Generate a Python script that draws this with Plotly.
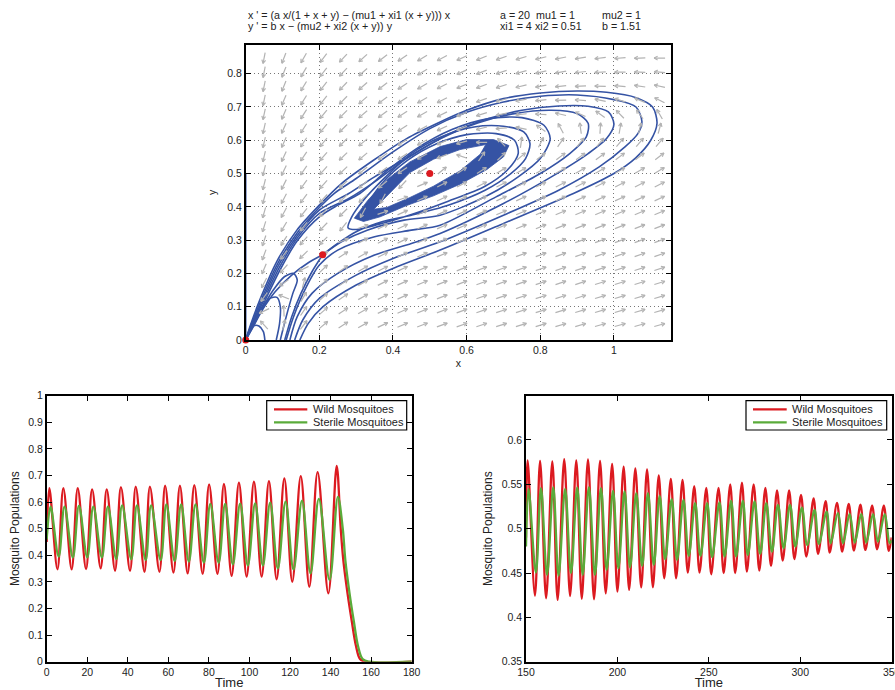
import numpy as np
import plotly.graph_objects as go

# ---------------- model parameters (printed on the chart) ----------------
a, mu1, mu2, xi1, xi2, b = 20, 1, 1, 4, 0.51, 1.51

# ---------------- phase portrait: equilibria ----------------
eq_x = [0.0, 0.209, 0.5]
eq_y = [0.0, 0.256, 0.5]

# limit-cycle band (outer edge and inner hole)
band_out_x = [0.295, 0.332, 0.385, 0.446, 0.528, 0.60, 0.673, 0.715, 0.70, 0.655, 0.582, 0.51, 0.437, 0.365, 0.32, 0.295]
band_out_y = [0.366, 0.42, 0.483, 0.535, 0.581, 0.602, 0.602, 0.584, 0.55, 0.512, 0.468, 0.433, 0.404, 0.37, 0.356, 0.366]
band_in_x = [0.348, 0.383, 0.446, 0.51, 0.582, 0.652, 0.637, 0.582, 0.51, 0.446, 0.383, 0.348]
band_in_y = [0.393, 0.432, 0.503, 0.543, 0.572, 0.587, 0.558, 0.508, 0.462, 0.428, 0.398, 0.393]

# trajectories (x, y)
traj = {
    "T1": ([0.147, 0.17, 0.21, 0.3, 0.4, 0.528, 0.7, 0.89, 1.0, 1.06, 1.1, 1.117, 1.105, 1.06, 0.98, 0.9, 0.8, 0.7, 0.6, 0.528, 0.437, 0.347, 0.26, 0.2, 0.139, 0.084, 0.04, 0.013, 0.0],
           [0.0, 0.05, 0.1, 0.165, 0.215, 0.27, 0.35, 0.44, 0.50, 0.548, 0.60, 0.651, 0.70, 0.728, 0.744, 0.748, 0.742, 0.725, 0.69, 0.655, 0.605, 0.54, 0.47, 0.405, 0.33, 0.235, 0.125, 0.045, 0.0]),
    "T2": ([0.133, 0.155, 0.2, 0.3, 0.4, 0.528, 0.7, 0.85, 0.96, 1.03, 1.065, 1.076, 1.06, 1.0, 0.9, 0.8, 0.7, 0.6, 0.5, 0.4, 0.3, 0.24, 0.2, 0.14, 0.086, 0.042, 0.014, 0.0],
           [0.0, 0.06, 0.125, 0.195, 0.245, 0.295, 0.375, 0.45, 0.52, 0.58, 0.62, 0.656, 0.70, 0.722, 0.736, 0.732, 0.715, 0.684, 0.635, 0.565, 0.485, 0.44, 0.398, 0.322, 0.228, 0.12, 0.043, 0.0]),
    "T3": ([0.12, 0.14, 0.18, 0.25, 0.35, 0.45, 0.528, 0.7, 0.83, 0.93, 0.98, 1.0, 0.985, 0.93, 0.85, 0.75, 0.65, 0.55, 0.45, 0.35, 0.28, 0.2, 0.14, 0.088, 0.044, 0.015, 0.0],
           [0.0, 0.07, 0.14, 0.2, 0.255, 0.29, 0.32, 0.41, 0.49, 0.56, 0.605, 0.648, 0.685, 0.702, 0.703, 0.69, 0.662, 0.618, 0.555, 0.49, 0.44, 0.39, 0.314, 0.222, 0.116, 0.041, 0.0]),
    "T4": ([0.11, 0.13, 0.165, 0.2, 0.25, 0.35, 0.45, 0.528, 0.68, 0.8, 0.88, 0.925, 0.93, 0.9, 0.83, 0.73, 0.63, 0.53, 0.43, 0.35, 0.28, 0.2, 0.14, 0.09, 0.046, 0.016, 0.0],
           [0.0, 0.07, 0.16, 0.225, 0.27, 0.31, 0.33, 0.345, 0.43, 0.5, 0.56, 0.61, 0.651, 0.68, 0.69, 0.68, 0.652, 0.605, 0.54, 0.475, 0.425, 0.38, 0.306, 0.215, 0.112, 0.04, 0.0]),
    "T5": ([0.209, 0.26, 0.33, 0.43, 0.528, 0.65, 0.74, 0.8, 0.827, 0.81, 0.75, 0.66, 0.56, 0.46, 0.38, 0.31, 0.25, 0.2, 0.14, 0.092, 0.048, 0.017, 0.0],
           [0.256, 0.295, 0.33, 0.36, 0.375, 0.43, 0.49, 0.545, 0.605, 0.645, 0.668, 0.665, 0.632, 0.572, 0.505, 0.44, 0.405, 0.37, 0.298, 0.208, 0.108, 0.038, 0.0]),
    "S1": ([0.209, 0.25, 0.3, 0.37, 0.45, 0.55, 0.65, 0.72, 0.76, 0.772, 0.755, 0.7, 0.62, 0.53, 0.45, 0.38, 0.32, 0.288, 0.278, 0.3, 0.36, 0.45, 0.55, 0.65, 0.71, 0.74, 0.73, 0.68, 0.6, 0.52, 0.44, 0.37, 0.325, 0.305],
           [0.256, 0.29, 0.325, 0.355, 0.375, 0.405, 0.45, 0.5, 0.545, 0.59, 0.625, 0.642, 0.64, 0.61, 0.56, 0.49, 0.42, 0.37, 0.337, 0.332, 0.347, 0.377, 0.417, 0.462, 0.51, 0.56, 0.6, 0.62, 0.617, 0.59, 0.54, 0.47, 0.4, 0.365]),
    "S0": ([0.209, 0.17, 0.125, 0.08, 0.045, 0.018, 0.0],
           [0.256, 0.232, 0.195, 0.145, 0.09, 0.035, 0.0]),
    "P1": ([0.106, 0.125, 0.15, 0.18, 0.209],
           [0.0, 0.07, 0.14, 0.205, 0.256]),
    "A1": ([0.052, 0.048, 0.036, 0.022, 0.01, 0.0],
           [0.0, 0.025, 0.042, 0.043, 0.028, 0.0]),
    "A2": ([0.083, 0.092, 0.094, 0.085, 0.065, 0.04, 0.017, 0.0],
           [0.0, 0.05, 0.1, 0.128, 0.125, 0.09, 0.04, 0.0]),
    "A3": ([0.094, 0.11, 0.128, 0.14, 0.13, 0.105, 0.075, 0.045, 0.018, 0.0],
           [0.0, 0.07, 0.14, 0.18, 0.2, 0.19, 0.15, 0.095, 0.037, 0.0]),
    "Y0": ([0.0, 0.0], [0.0, 0.5]),
}

# ---------------- time series, left panel (0-180) ----------------
peak_t_L = [1.3, 8.2, 15.3, 22.4, 29.6, 36.6, 43.9, 50.9, 58.4, 65.7, 72.8, 80.1, 87.4, 94.8, 102.2, 109.6, 117.2, 125.3, 133.6, 143.0]
wild_peak_L = [0.652, 0.652, 0.652, 0.648, 0.648, 0.656, 0.658, 0.658, 0.662, 0.662, 0.664, 0.667, 0.668, 0.673, 0.677, 0.679, 0.689, 0.698, 0.713, 0.736]
sterile_peak_L = [0.583, 0.583, 0.586, 0.583, 0.583, 0.588, 0.588, 0.588, 0.591, 0.591, 0.591, 0.593, 0.593, 0.594, 0.595, 0.598, 0.602, 0.605, 0.612, 0.620]
trough_t_L = [5.3, 12.3, 19.4, 26.6, 33.7, 41.1, 48.2, 55.6, 62.5, 69.5, 76.9, 84.2, 91.2, 98.6, 106.0, 113.4, 121.1, 129.5, 138.9]
wild_trough_L = [0.347, 0.347, 0.348, 0.351, 0.342, 0.342, 0.338, 0.338, 0.335, 0.332, 0.330, 0.330, 0.323, 0.320, 0.320, 0.310, 0.301, 0.282, 0.257]
sterile_trough_L = [0.395, 0.392, 0.392, 0.392, 0.386, 0.385, 0.382, 0.382, 0.379, 0.376, 0.373, 0.372, 0.366, 0.362, 0.362, 0.351, 0.347, 0.332, 0.307]
wild_start_L, sterile_start_L = 0.45, 0.46
wild_tail_t_L = [145.0, 146.3, 148.3, 150.5, 152.5, 154.5, 157.0, 180.0]
wild_tail_L = [0.50, 0.38, 0.26, 0.15, 0.06, 0.01, 0.0, 0.0]
sterile_tail_t_L = [146.0, 147.3, 149.3, 151.5, 153.5, 155.8, 159.0, 180.0]
sterile_tail_L = [0.50, 0.38, 0.26, 0.15, 0.06, 0.01, 0.0, 0.0]
sterile_lag_L = 0.6

# ---------------- time series, right panel (150-350) ----------------
peak_t_R = [150.9, 157.7, 164.4, 170.9, 177.5, 183.9, 190.5, 197.1, 203.4, 209.8, 216.2, 222.6, 229.2, 235.6, 242.0, 248.6, 255.3, 261.7, 268.1, 274.5, 280.9, 287.3, 293.9, 300.4, 307.3, 313.9, 320.1, 326.5, 332.9, 339.3, 345.7]
wild_peak_R = [0.577, 0.5765, 0.5757, 0.5784, 0.5769, 0.578, 0.5765, 0.5731, 0.570, 0.5678, 0.5667, 0.560, 0.556, 0.555, 0.548, 0.546, 0.546, 0.550, 0.552, 0.550, 0.546, 0.543, 0.543, 0.538, 0.534, 0.531, 0.529, 0.528, 0.527, 0.526, 0.526]
sterile_peak_R = [0.5446, 0.5457, 0.5468, 0.5449, 0.5464, 0.5468, 0.5457, 0.5427, 0.5419, 0.5401, 0.5401, 0.537, 0.5333, 0.5325, 0.5288, 0.5288, 0.5295, 0.5314, 0.5314, 0.5306, 0.5288, 0.5269, 0.5269, 0.5238, 0.5212, 0.5193, 0.5175, 0.5167, 0.5167, 0.5164, 0.5164]
trough_t_R = [154.9, 161.0, 167.3, 174.1, 180.5, 187.2, 193.6, 200.0, 206.4, 213.0, 219.4, 225.6, 232.1, 238.5, 244.9, 251.3, 258.1, 264.4, 270.8, 277.6, 284.0, 290.4, 296.8, 303.3, 309.7, 316.1, 322.9, 329.3, 335.6, 342.0, 348.4]
wild_trough_R = [0.4245, 0.4215, 0.4196, 0.4241, 0.4208, 0.4204, 0.4272, 0.429, 0.4309, 0.4339, 0.4339, 0.4441, 0.4441, 0.4505, 0.4505, 0.4486, 0.4498, 0.4498, 0.4516, 0.4527, 0.458, 0.464, 0.4656, 0.4686, 0.4716, 0.473, 0.4742, 0.4753, 0.476, 0.4768, 0.4749]
sterile_trough_R = [0.4505, 0.4479, 0.4471, 0.4498, 0.4479, 0.4479, 0.4535, 0.4554, 0.4565, 0.458, 0.4592, 0.4656, 0.4648, 0.4693, 0.4693, 0.4678, 0.4686, 0.4686, 0.4704, 0.4716, 0.4742, 0.478, 0.4798, 0.4817, 0.4829, 0.4836, 0.4836, 0.4843, 0.4843, 0.4855, 0.4836]
wild_ends_R = ((150.0, 0.49), (350.0, 0.49))
sterile_ends_R = ((150.0, 0.48), (350.0, 0.487))
sterile_lag_R = 0.5

legend_labels = ["Wild Mosquitoes", "Sterile Mosquitoes"]

# ---------------- styling ----------------
W, H = 895, 690
RED = "#dc1a20"
GREEN = "#5aab3a"
BLUE = "#3553a4"
GRAY_ARROW = "#b3b3b3"
FONT = "Liberation Sans, Arial, Helvetica, sans-serif"
TXT = "#222222"

dom_top_x = [245.7 / W, 671 / W]
dom_top_y = [1 - 340 / H, 1 - 44.7 / H]
dom_bl_x = [46.7 / W, 411.7 / W]
dom_br_x = [526 / W, 891.7 / W]
dom_b_y = [1 - 661.7 / H, 1 - 395.7 / H]
range_top_x = [0, 1.155]
range_top_y = [0, 0.887]


def series(start, pt, pv, tt, tv, tail_t=None, tail_v=None, lag=0.0, end=None):
    pts = [start] + [(t + lag, v) for t, v in zip(pt, pv)] + [(t + lag, v) for t, v in zip(tt, tv)]
    if tail_t is not None:
        pts += list(zip(tail_t, tail_v))
    if end is not None:
        pts.append(end)
    pts.sort(key=lambda p: p[0])
    return [p[0] for p in pts], [p[1] for p in pts]


fig = go.Figure()

# ---- direction field of the printed model ----
gx = 0.05 + 0.0537 * np.arange(21)
gy = 0.045 + 0.0422 * np.arange(20)
sx = (dom_top_x[1] - dom_top_x[0]) * W / (range_top_x[1] - range_top_x[0])
sy = (dom_top_y[1] - dom_top_y[0]) * H / (range_top_y[1] - range_top_y[0])
L, HL, ang = 11.0, 4.0, np.deg2rad(28)
ax_, ay_ = [], []
for yv in gy:
    for xv in gx:
        u = (a * xv / (1 + xv + yv) - (mu1 + xi1 * (xv + yv))) * xv
        v = b * xv - (mu2 + xi2 * (xv + yv)) * yv
        pu, pv = u * sx, v * sy
        n = np.hypot(pu, pv)
        if n == 0:
            continue
        dx, dy = pu / n, pv / n
        tx, ty = xv - 0.5 * L * dx / sx, yv - 0.5 * L * dy / sy
        hx, hy = xv + 0.5 * L * dx / sx, yv + 0.5 * L * dy / sy
        ax_ += [tx, hx, None]
        ay_ += [ty, hy, None]
        for s in (1, -1):
            c, si = np.cos(s * ang), np.sin(s * ang)
            bx, by = -dx * c + dy * si, -dx * si - dy * c
            ax_ += [hx, hx + HL * bx / sx, None]
            ay_ += [hy, hy + HL * by / sy, None]

# band (outer + hole)
fig.add_trace(go.Scatter(x=band_out_x + [None] + band_in_x[::-1], y=band_out_y + [None] + band_in_y[::-1],
                         mode="lines", fill="toself", fillcolor=BLUE, line=dict(color=BLUE, width=0.8),
                         xaxis="x", yaxis="y", showlegend=False, hoverinfo="skip"))
for name, (tx_, ty_) in traj.items():
    fig.add_trace(go.Scatter(x=tx_, y=ty_, mode="lines", line=dict(color=BLUE, width=1.6, shape="spline", smoothing=0.8),
                             xaxis="x", yaxis="y", showlegend=False, hoverinfo="skip"))
fig.add_trace(go.Scatter(x=ax_, y=ay_, mode="lines", line=dict(color=GRAY_ARROW, width=1.2),
                         xaxis="x", yaxis="y", showlegend=False, hoverinfo="skip"))
fig.add_trace(go.Scatter(x=eq_x, y=eq_y, mode="markers", marker=dict(color=RED, size=7),
                         xaxis="x", yaxis="y", showlegend=False, cliponaxis=False, hoverinfo="skip"))

# ---- time series ----
wtL, wvL = series((0.0, wild_start_L), peak_t_L, wild_peak_L, trough_t_L, wild_trough_L, wild_tail_t_L, wild_tail_L)
stL, svL = series((0.0, sterile_start_L), peak_t_L, sterile_peak_L, trough_t_L, sterile_trough_L,
                  sterile_tail_t_L, sterile_tail_L, lag=sterile_lag_L)
wtR, wvR = series(wild_ends_R[0], peak_t_R, wild_peak_R, trough_t_R, wild_trough_R, end=wild_ends_R[1])
stR, svR = series(sterile_ends_R[0], peak_t_R, sterile_peak_R, trough_t_R, sterile_trough_R,
                  lag=sterile_lag_R, end=sterile_ends_R[1])
for (xs, ys, col, nm, xa, ya) in [(wtL, wvL, RED, legend_labels[0], "x2", "y2"),
                                  (stL, svL, GREEN, legend_labels[1], "x2", "y2"),
                                  (wtR, wvR, RED, legend_labels[0], "x3", "y3"),
                                  (stR, svR, GREEN, legend_labels[1], "x3", "y3")]:
    fig.add_trace(go.Scatter(x=xs, y=ys, mode="lines", name=nm, showlegend=False,
                             line=dict(color=col, width=2.3, shape="spline", smoothing=1.0),
                             xaxis=xa, yaxis=ya))

axis_common = dict(showline=True, linecolor="black", linewidth=1.8, mirror="ticks", ticks="inside",
                   ticklen=5, tickcolor="black", zeroline=False, automargin=False,
                   tickfont=dict(family=FONT, size=10.5, color=TXT))
grid_common = dict(showgrid=True, gridcolor="#777777", griddash="1px,3px", gridwidth=1)

fig.update_layout(
    width=W, height=H, margin=dict(l=0, r=0, t=0, b=0), paper_bgcolor="white", plot_bgcolor="white",
    font=dict(family=FONT, color=TXT), showlegend=False,
    xaxis=dict(domain=dom_top_x, range=range_top_x, anchor="y", tickvals=[0, 0.2, 0.4, 0.6, 0.8, 1],
               ticktext=["0", "0.2", "0.4", "0.6", "0.8", "1"],
               title=dict(text="x", font=dict(size=10.5), standoff=4), **grid_common, **axis_common),
    yaxis=dict(domain=dom_top_y, range=range_top_y, anchor="x", tickvals=[0, 0.1, 0.2, 0.3, 0.4, 0.5, 0.6, 0.7, 0.8],
               ticktext=["0", "0.1", "0.2", "0.3", "0.4", "0.5", "0.6", "0.7", "0.8"],
               title=dict(text="y", font=dict(size=10.5), standoff=8), **grid_common, **axis_common),
    xaxis2=dict(domain=dom_bl_x, range=[0, 180], anchor="y2", tickvals=list(range(0, 181, 20)), showgrid=False,
                title=dict(text="Time", font=dict(size=13), standoff=2), **axis_common),
    yaxis2=dict(domain=dom_b_y, range=[0, 1], anchor="x2", tickvals=[i / 10 for i in range(11)],
                ticktext=["0", "0.1", "0.2", "0.3", "0.4", "0.5", "0.6", "0.7", "0.8", "0.9", "1"], showgrid=False,
                title=dict(text="Mosquito Populations", font=dict(size=12), standoff=6), **axis_common),
    xaxis3=dict(domain=dom_br_x, range=[150, 350], anchor="y3", tickvals=[150, 200, 250, 300, 350], showgrid=False,
                ticklabeloverflow="allow",
                title=dict(text="Time", font=dict(size=13), standoff=2), **axis_common),
    yaxis3=dict(domain=dom_b_y, range=[0.35, 0.6499], anchor="x3", tickvals=[0.35, 0.4, 0.45, 0.5, 0.55, 0.6],
                ticktext=["0.35", "0.4", "0.45", "0.5", "0.55", "0.6"], showgrid=False,
                title=dict(text="Mosquito Populations", font=dict(size=12), standoff=6), **axis_common),
)

# ---- legends (drawn as boxes with line samples and text) ----
for bx0, bx1, lx0, lx1, tx0 in [(266.7, 406.7, 274, 307.3, 310.7), (746, 886.7, 753, 786.7, 790)]:
    fig.add_shape(type="rect", xref="paper", yref="paper", x0=bx0 / W, x1=bx1 / W, y0=1 - 430 / H, y1=1 - 400.7 / H,
                  line=dict(color="black", width=1.2), fillcolor="white", layer="above")
    for ly, col, lab in [(409.3, RED, legend_labels[0]), (422.3, GREEN, legend_labels[1])]:
        fig.add_shape(type="line", xref="paper", yref="paper", x0=lx0 / W, x1=lx1 / W, y0=1 - ly / H, y1=1 - ly / H,
                      line=dict(color=col, width=2.3), layer="above")
        fig.add_annotation(x=tx0 / W, y=1 - ly / H, xref="paper", yref="paper", text=lab, showarrow=False,
                           xanchor="left", yanchor="middle", font=dict(family=FONT, size=11, color=TXT))

# ---- header text (equations and parameters) ----
hdr = [
    (248, 15, "x ' = (a x/(1 + x + y) \u2212 (mu1 + xi1 (x + y))) x"),
    (248, 25.5, "y ' = b x \u2212 (mu2 + xi2 (x + y)) y"),
    (500, 15, "a = %g" % a), (536, 15, "mu1 = %g" % mu1), (602, 15, "mu2 = %g" % mu2),
    (500, 25.5, "xi1 = %g" % xi1), (535, 25.5, "xi2 = %g" % xi2), (602, 25.5, "b = %g" % b),
]
for px, py, txt in hdr:
    fig.add_annotation(x=px / W, y=1 - py / H, xref="paper", yref="paper", text=txt, showarrow=False,
                       xanchor="left", yanchor="middle", xshift=-2, font=dict(family=FONT, size=10.7, color=TXT))

fig.write_html("out.html", config={"displayModeBar": False, "staticPlot": True},
               post_script="document.body.style.margin='0px';document.body.style.overflow='hidden';")
